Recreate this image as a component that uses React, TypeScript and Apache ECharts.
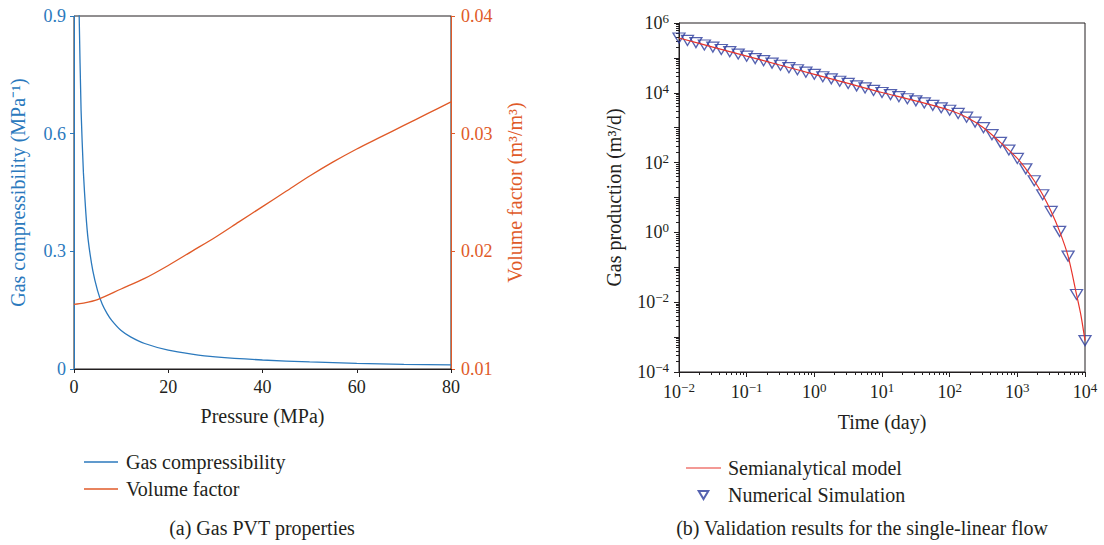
import React, { useEffect, useRef } from 'react';
import * as echarts from 'echarts';

// ---------- (a) Gas PVT properties ----------
const pressureC = [0.9, 1.1, 1.5, 2, 2.5, 3, 4, 5, 6, 7, 8, 10, 12, 15, 20, 25, 30, 40, 50, 60, 70, 80];
const compressibility = [1.1, 0.9, 0.66, 0.5, 0.4, 0.33, 0.25, 0.2, 0.165, 0.142, 0.124, 0.098, 0.082, 0.065, 0.048, 0.038, 0.031, 0.023, 0.018, 0.0145, 0.012, 0.0105];

const pressureB = [0, 2, 5, 10, 15, 20, 25, 30, 35, 40, 45, 50, 55, 60, 65, 70, 75, 80];
const volumeFactor = [0.0155, 0.0156, 0.0159, 0.0168, 0.0177, 0.0188, 0.02, 0.0212, 0.0225, 0.0238, 0.0251, 0.0264, 0.0276, 0.0287, 0.0297, 0.0307, 0.0317, 0.0327];

// ---------- (b) Validation results ----------
const modelDays = [0.01, 0.03162, 0.1, 0.3162, 1, 3.162, 10, 31.62, 100, 177.8, 316.2, 562.3, 1000, 1334, 1778, 2371, 3162, 4217, 5623, 7499, 8710, 10000];
const modelRate = [3.72e5, 2.04e5, 1.12e5, 6.17e4, 3.39e4, 1.86e4, 1.02e4, 5.89e3, 3.16e3, 2.0e3, 1.0e3, 380, 132, 66.1, 30.2, 12.0, 3.98, 1.07, 0.209, 0.0166, 0.0042, 7.94e-4];

const simDays = [
  0.01, 0.01334, 0.01778, 0.02371, 0.03162, 0.04217, 0.05623, 0.07499,
  0.1, 0.1334, 0.1778, 0.2371, 0.3162, 0.4217, 0.5623, 0.7499,
  1, 1.334, 1.778, 2.371, 3.162, 4.217, 5.623, 7.499,
  10, 13.34, 17.78, 23.71, 31.62, 42.17, 56.23, 74.99,
  100, 133.4, 177.8, 237.1, 316.2, 421.7, 562.3, 749.9,
  1000, 1334, 1778, 2371, 3162, 4217, 5623, 7499, 10000,
];
const simRate = [
  3.72e5, 3.16e5, 2.75e5, 2.34e5, 2.04e5, 1.74e5, 1.51e5, 1.29e5,
  1.12e5, 9.55e4, 8.32e4, 7.08e4, 6.17e4, 5.25e4, 4.57e4, 3.89e4,
  3.39e4, 2.88e4, 2.51e4, 2.14e4, 1.86e4, 1.58e4, 1.38e4, 1.17e4,
  1.02e4, 8.91e3, 7.76e3, 6.76e3, 5.89e3, 5.13e3, 4.37e3, 3.72e3,
  3.16e3, 2.57e3, 2.0e3, 1.45e3, 1.0e3, 631, 380, 229,
  132, 66.1, 30.2, 12.0, 3.98, 1.07, 0.209, 0.0166, 7.94e-4,
];

const timeLabels = [0.01, 0.1, 1, 10, 100, 1000, 10000];
const rateLabels = [1e-4, 1e-2, 1, 1e2, 1e4, 1e6];
const rateMajor = [1e-4, 1e-3, 1e-2, 1e-1, 1, 10, 1e2, 1e3, 1e4, 1e5, 1e6];

const FONT = "'Liberation Serif', 'Times New Roman', serif";
const INK = '#231f20';
const BLUE = '#2b79bd';
const ORANGE = '#e05a28';
const RED = '#e8342c';
const NAVY = '#2a3b9c';

const pow10 = (v: number) => {
  const e = Math.round(Math.log10(v));
  return '{b|10}{s|' + String(e).replace('-', '−') + '}';
};
const minorTicks = (lo: number, hi: number) => {
  const out: number[] = [];
  for (let d = lo; d < hi; d++) for (let k = 2; k <= 9; k++) out.push(k * Math.pow(10, d));
  return out;
};
const powRich = {
  b: { fontFamily: FONT, fontSize: 18, color: INK, lineHeight: 22 },
  s: { fontFamily: FONT, fontSize: 13, color: INK, lineHeight: 13, verticalAlign: 'top' },
};

export default function App() {
  const ref = useRef<HTMLDivElement>(null);
  useEffect(() => {
    const chart = echarts.init(ref.current!, null, { renderer: 'svg' });
    const lbl = { fontFamily: FONT, fontSize: 18, color: INK };
    const ttl = { fontFamily: FONT, fontSize: 20, color: INK };
    chart.setOption({
      animation: false,
      backgroundColor: '#fff',
      textStyle: { fontFamily: FONT },
      grid: [
        { left: 74, top: 16, width: 377, height: 353, show: true, borderColor: INK, borderWidth: 1, backgroundColor: 'transparent' },
        { left: 679, top: 23, width: 406, height: 349, show: true, borderColor: INK, borderWidth: 1, backgroundColor: 'transparent' },
      ],
      xAxis: [
        {
          gridIndex: 0, type: 'value', min: 0, max: 80, interval: 20, position: 'bottom',
          name: 'Pressure (MPa)', nameLocation: 'middle', nameGap: 37, nameTextStyle: { ...ttl },
          axisLine: { lineStyle: { color: INK, width: 1 } },
          axisTick: { show: true, length: 4, lineStyle: { color: INK } },
          axisLabel: { ...lbl, margin: 9 },
          splitLine: { show: false },
        },
        {
          gridIndex: 1, type: 'log', min: 0.01, max: 10000, position: 'bottom',
          name: 'Time (day)', nameLocation: 'middle', nameGap: 40, nameTextStyle: { ...ttl },
          axisLine: { lineStyle: { color: INK, width: 1 } },
          axisTick: { show: true, length: 5, customValues: timeLabels, lineStyle: { color: INK } },
          axisLabel: { ...lbl, margin: 9, customValues: timeLabels, formatter: (v: number) => pow10(v), rich: powRich },
          splitLine: { show: false }, minorSplitLine: { show: false },
        },
        {
          gridIndex: 1, type: 'log', min: 0.01, max: 10000, position: 'bottom',
          axisLine: { show: false },
          axisTick: { show: true, length: 3, customValues: minorTicks(-2, 4), lineStyle: { color: INK } },
          axisLabel: { show: false },
          splitLine: { show: false },
        },
      ],
      yAxis: [
        {
          gridIndex: 0, type: 'value', min: 0, max: 0.9, interval: 0.3, position: 'left',
          name: 'Gas compressibility (MPa⁻¹)', nameLocation: 'middle', nameRotate: 90, nameGap: 46,
          nameTextStyle: { ...ttl, color: BLUE },
          axisLine: { show: true, lineStyle: { color: BLUE, width: 1 } },
          axisTick: { show: true, length: 4, lineStyle: { color: BLUE } },
          axisLabel: { ...lbl, color: BLUE, margin: 8 },
          splitLine: { show: false },
        },
        {
          gridIndex: 0, type: 'value', min: 0.01, max: 0.04, interval: 0.01, position: 'right',
          name: 'Volume factor (m³/m³)', nameLocation: 'middle', nameRotate: 90, nameGap: 54,
          nameTextStyle: { ...ttl, color: ORANGE },
          axisLine: { show: true, lineStyle: { color: ORANGE, width: 1 } },
          axisTick: { show: true, length: 4, lineStyle: { color: ORANGE } },
          axisLabel: { ...lbl, color: ORANGE, margin: 10 },
          splitLine: { show: false },
        },
        {
          gridIndex: 1, type: 'log', min: 1e-4, max: 1e6, position: 'left',
          name: 'Gas production (m³/d)', nameLocation: 'middle', nameRotate: 90, nameGap: 55,
          nameTextStyle: { ...ttl },
          axisLine: { show: true, lineStyle: { color: INK, width: 1 } },
          axisTick: { show: true, length: 5, customValues: rateMajor, lineStyle: { color: INK } },
          axisLabel: { ...lbl, margin: 10, customValues: rateLabels, formatter: (v: number) => pow10(v), rich: powRich },
          splitLine: { show: false }, minorSplitLine: { show: false },
        },
        {
          gridIndex: 1, type: 'log', min: 1e-4, max: 1e6, position: 'left',
          axisLine: { show: false },
          axisTick: { show: true, length: 3, customValues: minorTicks(-4, 6), lineStyle: { color: INK } },
          axisLabel: { show: false },
          splitLine: { show: false },
        },
      ],
      legend: [
        {
          left: 79, top: 447, orient: 'vertical', itemWidth: 34, itemHeight: 10, itemGap: 7,
          data: [
            { name: 'Gas compressibility', icon: 'path://M0,0H34V1.3H0Z' },
            { name: 'Volume factor', icon: 'path://M0,0H34V1.3H0Z' },
          ],
          textStyle: { ...ttl, lineHeight: 20, padding: [0, 0, 0, 3] },
        },
        {
          left: 681, top: 453, orient: 'vertical', itemWidth: 35, itemHeight: 8, itemGap: 7,
          data: [
            { name: 'Semianalytical model', icon: 'path://M0,0H35V1.2H0Z' },
            { name: 'Numerical Simulation', icon: 'path://M0,0L9,0L4.5,7.5Z' },
          ],
          textStyle: { ...ttl, lineHeight: 20, padding: [0, 0, 0, 2] },
        },
      ],
      series: [
        {
          name: 'Gas compressibility', type: 'line', xAxisIndex: 0, yAxisIndex: 0,
          data: pressureC.map((p, i) => [p, compressibility[i]]),
          symbol: 'none', smooth: 0.2, clip: true,
          lineStyle: { color: BLUE, width: 1.3 }, itemStyle: { color: BLUE },
        },
        {
          name: 'Volume factor', type: 'line', xAxisIndex: 0, yAxisIndex: 1,
          data: pressureB.map((p, i) => [p, volumeFactor[i]]),
          symbol: 'none', smooth: 0.3,
          lineStyle: { color: ORANGE, width: 1.3 }, itemStyle: { color: ORANGE },
        },
        {
          name: 'Semianalytical model', type: 'line', xAxisIndex: 1, yAxisIndex: 2,
          data: modelDays.map((t, i) => [t, modelRate[i]]),
          symbol: 'none', smooth: 0.3,
          lineStyle: { color: RED, width: 1.2 }, itemStyle: { color: RED },
        },
        {
          name: 'Numerical Simulation', type: 'scatter', xAxisIndex: 1, yAxisIndex: 2,
          data: simDays.map((t, i) => [t, simRate[i]]),
          symbol: 'triangle', symbolRotate: 180, symbolSize: [12, 10],
          itemStyle: { color: 'transparent', borderColor: NAVY, borderWidth: 1.3 },
        },
      ],
      graphic: [
        { type: 'text', x: 262, y: 528, style: { text: '(a) Gas PVT properties', fontFamily: FONT, fontSize: 20, fill: INK, textAlign: 'center', textVerticalAlign: 'middle' } },
        { type: 'text', x: 862, y: 528, style: { text: '(b) Validation results for the single-linear flow', fontFamily: FONT, fontSize: 20, fill: INK, textAlign: 'center', textVerticalAlign: 'middle' } },
      ],
    });
    return () => chart.dispose();
  }, []);
  return <div ref={ref} style={{ position: 'absolute', left: 0, top: 0, width: 1104, height: 545, background: '#fff' }} />;
}
